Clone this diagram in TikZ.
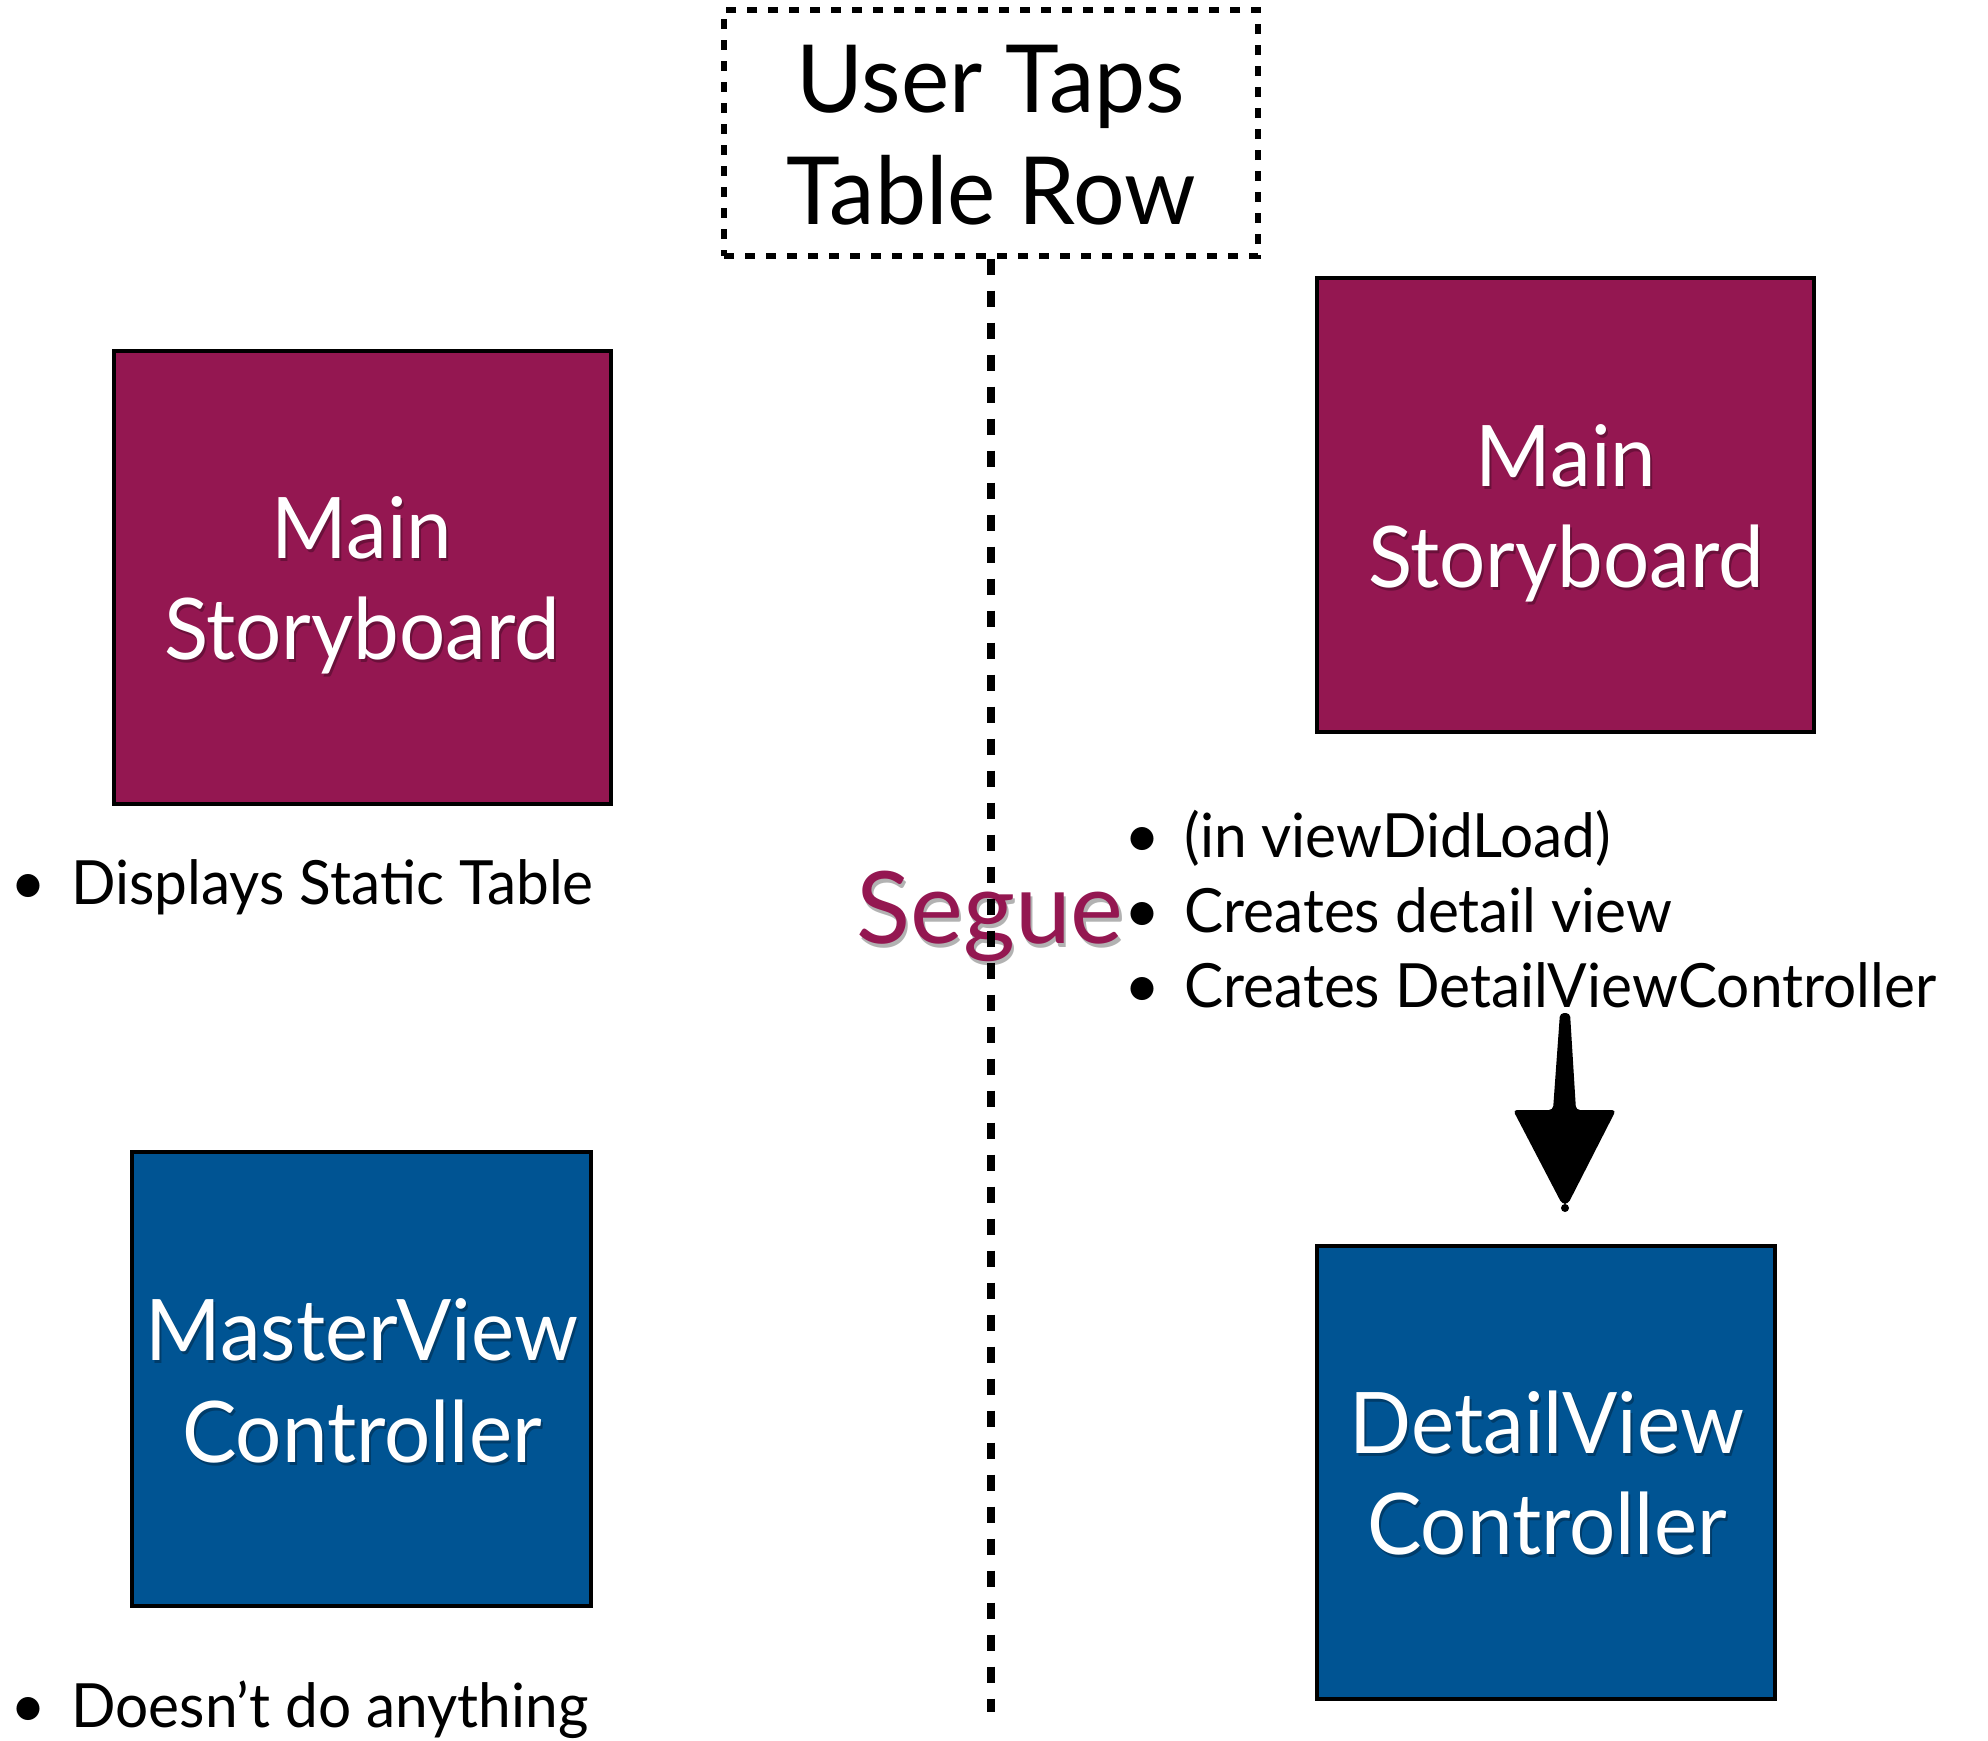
\documentclass[tikz,border=0pt]{standalone}
\usepackage{fontspec}
\setmainfont{Lato}
\newfontfamily\boxfont[FakeStretch=0.96]{Lato}
\newfontfamily\titlefont[FakeStretch=0.97]{Lato}
\newfontfamily\listfont[FakeStretch=0.96]{Lato}
\usetikzlibrary{calc}
\definecolor{plum}{RGB}{148,23,81}
\definecolor{ocean}{RGB}{0,84,147}

\tikzset{
  boxbase/.style={draw=black, line width=2.3pt, inner sep=0pt},
  sbbox/.style={boxbase, fill=plum},
  vcbox/.style={boxbase, fill=ocean},
  eventbox/.style={draw=black, line width=2.6pt, dash pattern=on 5pt off 5.5pt, inner sep=0pt},
  boxlabel/.style={anchor=base, inner sep=0pt, text=white, font=\boxfont\fontsize{42.5}{50}\selectfont},
  titlelabel/.style={anchor=base, inner sep=0pt, font=\titlefont\fontsize{47}{56}\selectfont},
  bulletmark/.style={anchor=base, inner sep=0pt, font=\fontsize{31}{38}\selectfont},
  bullettext/.style={anchor=base west, inner sep=0pt, font=\listfont\fontsize{30.5}{38}\selectfont},
  seguelabel/.style={anchor=base, inner sep=0pt, text=plum, font=\fontsize{50}{60}\selectfont},
  textshadow/.style={text=black, opacity=0.28, xshift=1pt, yshift=-1.6pt},
  timeline/.style={draw=black, line width=3.9pt, dash pattern=on 8pt off 8pt},
}

% white caption with a soft drop shadow
\newcommand\shadowlabel[4]{%
  \node[#3, textshadow] at (#2) {#4};
  \node[#3] (#1) at (#2) {#4};}

% one bullet point: name, bullet x, text x, baseline y, text
\newcommand\bulletitem[5]{%
  \node[bulletmark] (#1b) at (#2,#4) {\textbullet};
  \node[bullettext] (#1) at (#3,#4) {#5};}

\begin{document}
\begin{tikzpicture}[x=0.5pt, y=-0.5pt]
  \useasboundingbox (0,0) rectangle (1988,1741);

  % triggering event
  \node[eventbox, minimum width=267pt, minimum height=123pt] (tap) at (991,133) {};
  \node[titlelabel] (tap1) at (991,112) {User Taps};
  \node[titlelabel] (tap2) at (991,224) {Table Row};

  % left column: before the segue
  \node[sbbox, minimum width=248.5pt, minimum height=226.5pt] (sbleft) at (362.5,577.5) {};
  \shadowlabel{sbleft1}{362,558}{boxlabel}{Main}
  \shadowlabel{sbleft2}{362,659}{boxlabel}{Storyboard}
  \bulletitem{staticrow}{28}{71}{904}{Displays Static Table}

  \node[vcbox, minimum width=229.5pt, minimum height=227pt] (master) at (361.5,1379) {};
  \shadowlabel{master1}{362,1360}{boxlabel}{MasterView}
  \shadowlabel{master2}{362,1462}{boxlabel}{Controller}
  \bulletitem{nothing}{28}{71}{1727}{Doesn’t do anything}

  % right column: after the segue
  \node[sbbox, minimum width=248.5pt, minimum height=227pt] (sbright) at (1565.5,505) {};
  \shadowlabel{sbright1}{1566,486}{boxlabel}{Main}
  \shadowlabel{sbright2}{1566,587}{boxlabel}{Storyboard}
  \bulletitem{loadrow}{1142}{1184}{857}{(in viewDidLoad)}
  \bulletitem{viewrow}{1142}{1184}{932}{Creates detail view}
  \bulletitem{ctrlrow}{1142}{1184}{1007}{Creates DetailViewController}

  \node[vcbox, minimum width=229pt, minimum height=226.5pt] (detail) at (1546,1472.5) {};
  \shadowlabel{detail1}{1547,1453}{boxlabel}{DetailView}
  \shadowlabel{detail2}{1547,1554}{boxlabel}{Controller}

  % segue label and the dividing time line
  \node[seguelabel, text=black, opacity=0.3, xshift=1.2pt, yshift=-2pt] at (990,943) {Segue};
  \node[seguelabel] (segue) at (990,943) {Segue};
  \coordinate (lineend) at (991,1712);
  \draw[timeline] (tap.south) -- (lineend);

  % brush-stroke arrow down to the detail controller
  \coordinate (arrtop) at (1565,1013);
  \coordinate (arrtip) at (1565,1208);
  \fill[black, rounded corners=2pt]
    ($(arrtop)+(-5,0)$) -- ($(arrtop)+(5,0)$) -- (1576,1110) -- (1616,1110)
    -- ($(arrtip)+(3,-4)$) -- ($(arrtip)+(-3,-4)$) -- (1513,1110) -- (1553,1110) -- cycle;
  \fill[black] (arrtip) circle (4);
\end{tikzpicture}
\end{document}
